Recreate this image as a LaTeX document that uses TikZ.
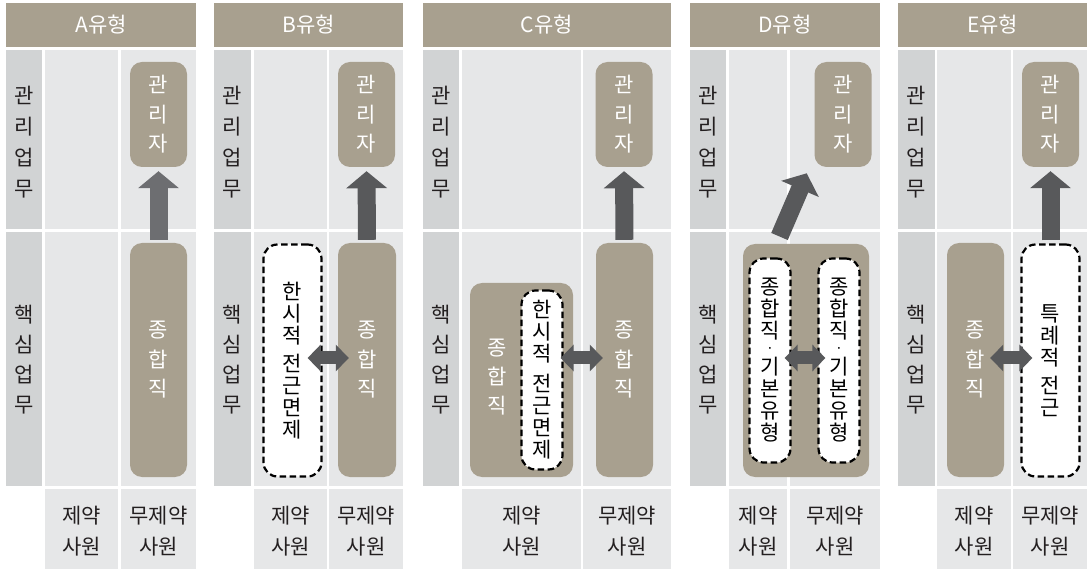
\documentclass[tikz,border=0pt]{standalone}
\usepackage{fontspec}
\setmainfont{Noto Sans CJK KR}
\usetikzlibrary{arrows.meta,calc}
\definecolor{tanc}{HTML}{A8A08F}
\definecolor{cellc}{HTML}{E6E7E8}
\definecolor{labc}{HTML}{D1D3D4}
\definecolor{arrc}{HTML}{58595B}
\definecolor{arrA}{HTML}{6D6E71}
\definecolor{txtc}{HTML}{231F20}
\newcommand{\smalldot}{{\fontsize{14}{14}\selectfont ·}}
\tikzset{
 hdr/.style={fill=tanc},
 hdrtext/.style={text=white, font=\fontsize{21}{24}\selectfont, inner sep=0pt},
 cell/.style={fill=cellc},
 labcell/.style={fill=labc},
 vlab/.style={text=txtc, align=center, inner sep=0pt, font=\fontsize{21}{31}\selectfont},
 blab/.style={text=txtc, align=center, inner sep=0pt, font=\fontsize{21}{31}\selectfont},
 tanbox/.style={fill=tanc, rounded corners=12pt, inner sep=0pt, minimum width=57pt, text=white, align=center, font=\fontsize{21}{29.5}\selectfont},
 boxtext/.style={text=white, align=center, inner sep=0pt, font=\fontsize{21}{29}\selectfont},
 dashbox/.style={draw=black, fill=white, line width=2.2pt, dash pattern=on 6.5pt off 3.5pt, rounded corners=14pt, inner sep=0pt, text=black, align=center, font=\fontsize{21}{22}\selectfont},
 uparrow/.style={draw=arrc, line width=18pt, -{Triangle[width=40pt,length=17pt]}, shorten <=3pt, shorten >=4pt},
 dblarrow/.style={draw=arrc, line width=13pt, {Triangle[width=26pt,length=13pt]}-{Triangle[width=26pt,length=13pt]}},
}
\newcommand{\drawpanel}[7]{%
 \fill[hdr] (#2,3) rectangle (#7,47);
 \node[hdrtext] (hdr#1) at ({(#2+#7)/2},25) {#1유형};
 \fill[labcell] (#2,50) rectangle (#3,229);
 \fill[labcell] (#2,232) rectangle (#3,486);
 \fill[cell] (#4,50) rectangle (#5,229);
 \fill[cell] (#6,50) rectangle (#7,229);
 \fill[cell] (#4,232) rectangle (#5,486);
 \fill[cell] (#6,232) rectangle (#7,486);
 \fill[cell] (#4,489) rectangle (#5,569);
 \fill[cell] (#6,489) rectangle (#7,569);
 \node[vlab] (mgrlab#1) at ({(#2+#3)/2},142) {관\\리\\업\\무};
 \node[vlab, font=\fontsize{21}{30}\selectfont] (corelab#1) at ({(#2+#3)/2},360) {핵\\심\\업\\무};
 \node[blab] (cons#1) at ({(#4+#5)/2},531) {제약\\사원};
 \node[blab] (uncons#1) at ({(#6+#7)/2},531) {무제약\\사원};
}
\begin{document}
\begin{tikzpicture}[x=1pt,y=-1pt]
\fill[white] (0,0) rectangle (1090,569);
\useasboundingbox (0,0) rectangle (1090,569);
\coordinate (arrowrow) at (0,358);

\drawpanel{A}{6}{42}{45}{118}{121}{196}
\drawpanel{B}{214}{251}{254}{327}{329}{403}
\drawpanel{C}{423}{459}{462}{581}{583}{671}
\drawpanel{D}{690}{726}{729}{787}{790}{880}
\drawpanel{E}{898}{935}{937}{1011}{1013}{1087}

% A
\node[tanbox, minimum height=105pt] (mgrA) at (158.5,114.5) {관\\리\\자};
\node[tanbox, minimum height=234pt] (genA) at (158.5,360) {종\\합\\직};
\draw[uparrow, draw=arrA] (genA.north) -- (mgrA.south);

% B
\node[tanbox, minimum height=105pt] (mgrB) at (366.5,114.5) {관\\리\\자};
\node[tanbox, minimum width=58pt, minimum height=234pt] (genB) at (367,360) {종\\합\\직};
\node[dashbox, minimum width=58pt, minimum height=232pt] (tmpB) at (292.5,360.5) {한\\시\\적\\[6pt]전\\근\\면\\제};
\draw[uparrow] (genB.north) -- (mgrB.south);
\draw[dblarrow, shorten <=-15pt, shorten >=-11pt] (tmpB.east |- arrowrow) -- (genB.west |- arrowrow);

% C
\node[tanbox, minimum height=105pt] (mgrC) at (624,114.5) {관\\리\\자};
\node[tanbox, minimum height=234pt] (genC) at (624.5,360) {종\\합\\직};
\node[tanbox, minimum width=103pt, minimum height=194pt] (mixC) at (521.5,380) {};
\node[boxtext] (mixCtext) at (497,377) {종\\합\\직};
\node[dashbox, minimum width=41pt, minimum height=179pt] (tmpC) at (542,380) {한\\시\\적\\[8pt]전\\근\\면\\제};
\draw[uparrow] (genC.north) -- (mgrC.south);
\draw[dblarrow, shorten <=-3pt, shorten >=-7pt] (tmpC.east |- arrowrow) -- (genC.west |- arrowrow);

% D
\node[tanbox, minimum height=105pt] (mgrD) at (843,114.5) {관\\리\\자};
\node[tanbox, minimum width=126pt, minimum height=233pt] (mixD) at (806,360.5) {};
\node[dashbox, minimum width=41pt, minimum height=204pt] (tmpD1) at (770,360.5) {종\\합\\직\\[-7pt]\smalldot\\[-1pt]기\\본\\유\\형};
\node[dashbox, minimum width=41pt, minimum height=204pt] (tmpD2) at (839,360.5) {종\\합\\직\\[-7pt]\smalldot\\[-1pt]기\\본\\유\\형};
\coordinate (Dtail) at (779.5,236.5);
\coordinate (Dtip) at (806.7,173.3);
\draw[uparrow, shorten <=0pt, shorten >=0pt] (Dtail) -- (Dtip);
\draw[dblarrow, shorten <=-7pt, shorten >=-8pt] (tmpD1.east |- arrowrow) -- (tmpD2.west |- arrowrow);

% E
\node[tanbox, minimum height=105pt] (mgrE) at (1050.5,114.5) {관\\리\\자};
\node[tanbox, minimum height=234pt] (genE) at (975.5,360) {종\\합\\직};
\node[dashbox, minimum width=58pt, minimum height=232pt] (tmpE) at (1050.5,360.5) {특\\례\\적\\[6pt]전\\근};
\draw[uparrow] (tmpE.north) -- (mgrE.south);
\draw[dblarrow, shorten <=-14pt, shorten >=-12pt] (genE.east |- arrowrow) -- (tmpE.west |- arrowrow);
\end{tikzpicture}
\end{document}
